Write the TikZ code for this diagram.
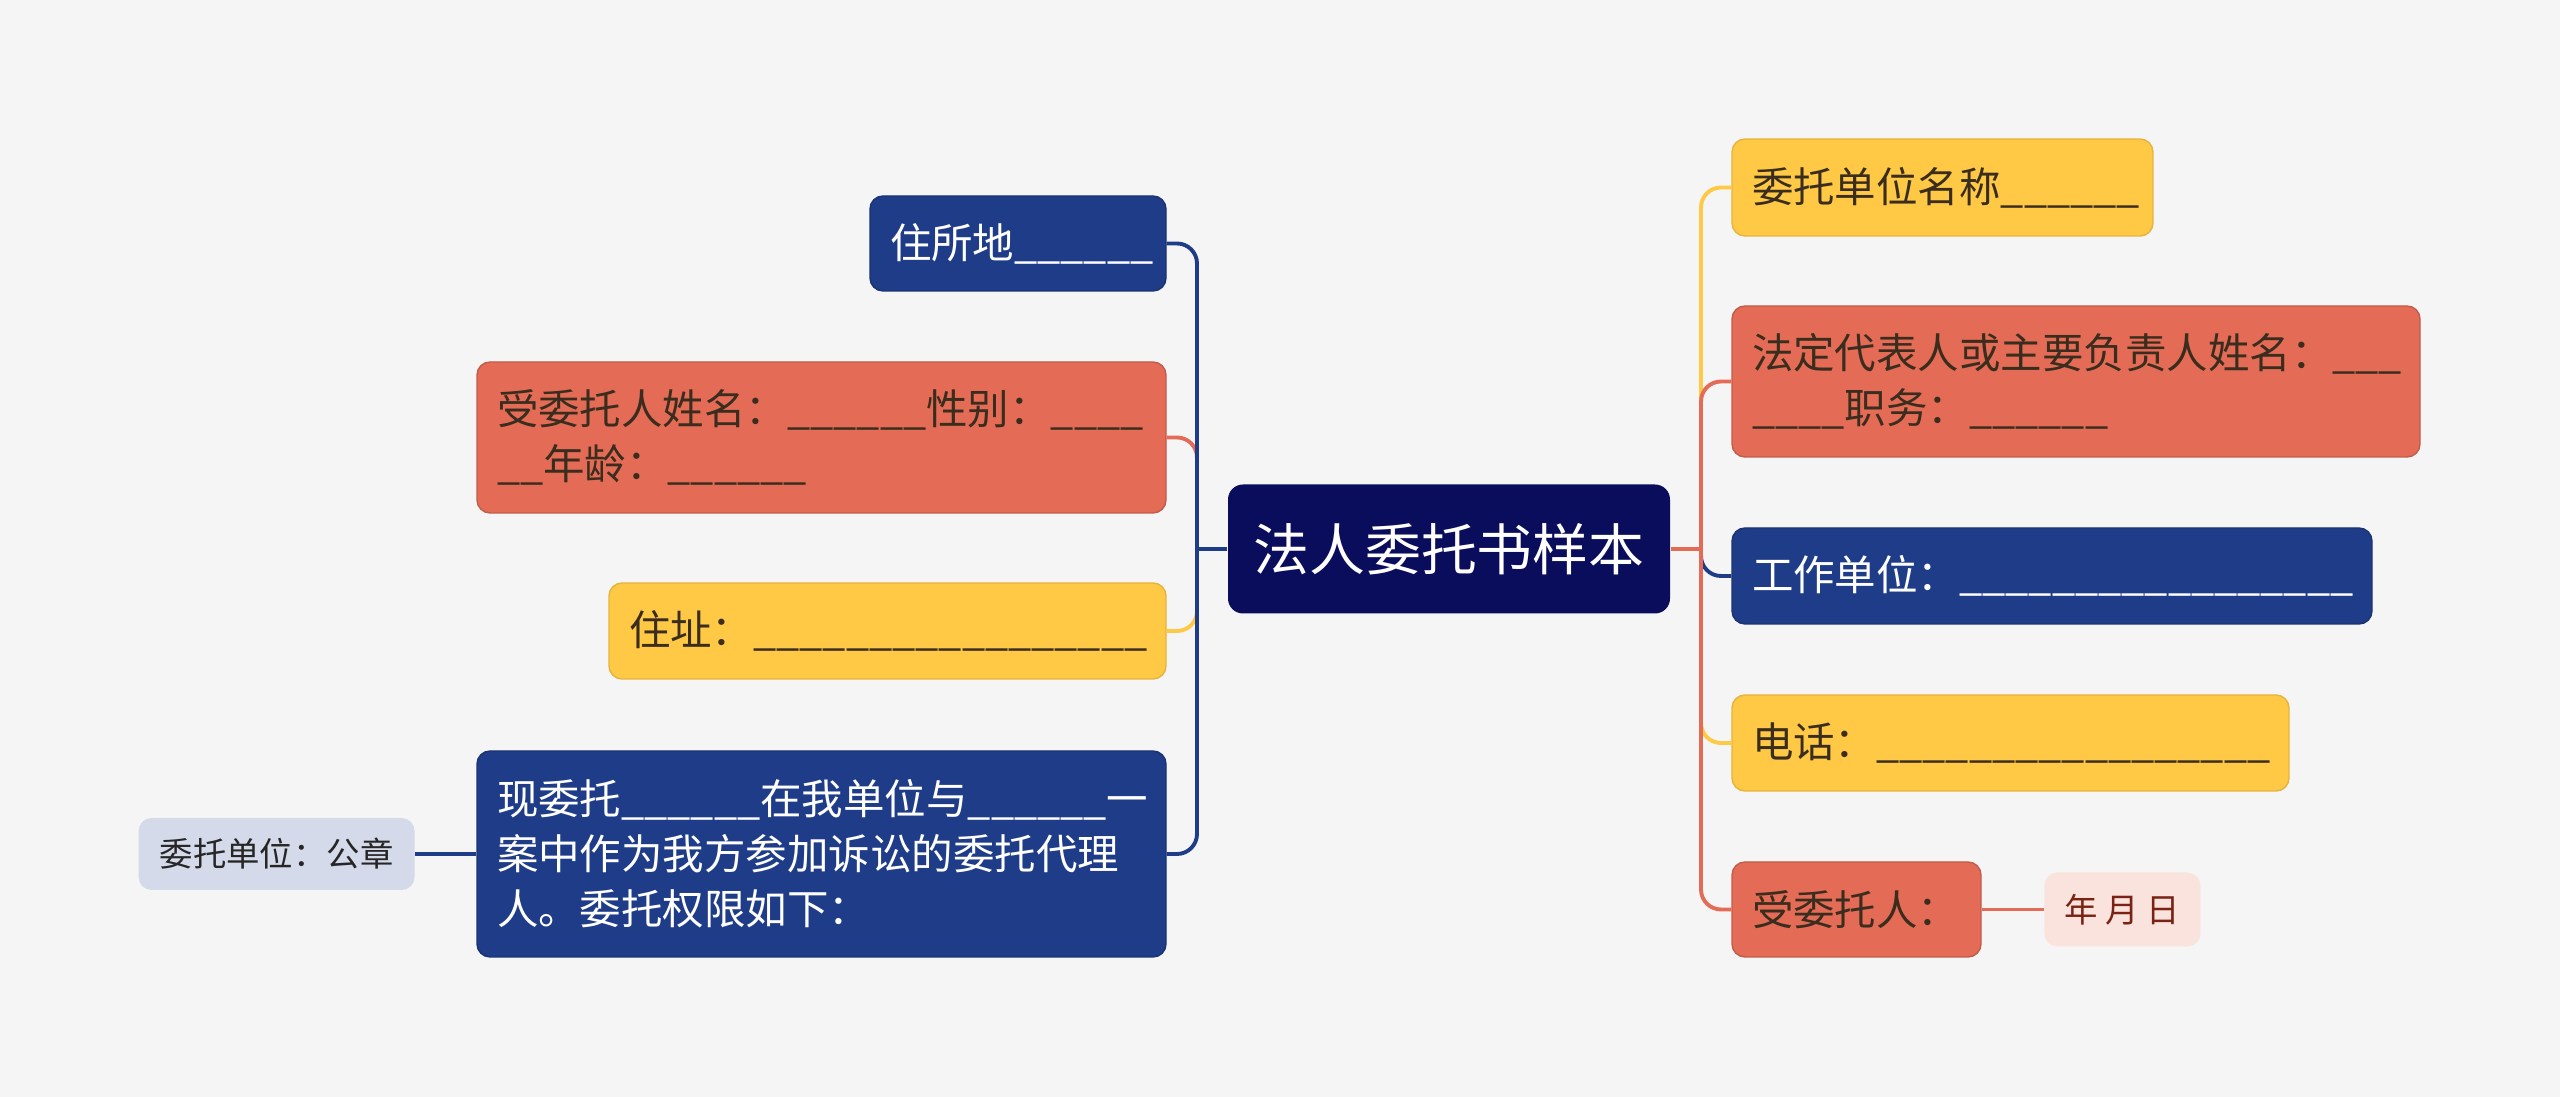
\documentclass[tikz,border=0pt]{standalone}
\usepackage{fontspec}
\setmainfont{Noto Sans CJK SC}
\usepackage{xcolor}
\usepackage{tikz}
\usetikzlibrary{positioning}
\definecolor{mmBack}{HTML}{F5F5F5}
\definecolor{mmRoot}{HTML}{0A0D5C}
\definecolor{mmBlue}{HTML}{1F3C88}
\definecolor{mmCoral}{HTML}{E46C57}
\definecolor{mmYellow}{HTML}{FFC845}
\definecolor{mmInk}{HTML}{3A2D1E}
\definecolor{mmPink}{HTML}{FAE3DD}
\definecolor{mmPinkInk}{HTML}{7A2214}
\definecolor{mmLilac}{HTML}{D5DAEA}

\begin{document}
\begin{tikzpicture}[
  x=0.1mm,y=-0.1mm,
  topic/.style={rounded corners=1.3mm,inner xsep=2mm,inner ysep=1mm,align=left,
    line width=0.4pt,font=\fontsize{11.8pt}{15.6pt}\selectfont},
  bluetopic/.style={topic,fill=mmBlue,draw=mmBlue!85!black,text=white},
  coraltopic/.style={topic,fill=mmCoral,draw=mmCoral!85!black,text=mmInk},
  yellowtopic/.style={topic,fill=mmYellow,draw=mmYellow!90!black,text=mmInk},
  roottopic/.style={rounded corners=1.5mm,fill=mmRoot,text=white,align=center,
    minimum width=44.2mm,minimum height=12.9mm,font=\fontsize{15.9pt}{19pt}\selectfont},
  leaf/.style={rounded corners=1.3mm,align=center,font=\fontsize{9.5pt}{12pt}\selectfont},
  link/.style={line width=1.1pt,rounded corners=2mm}
]
\fill[mmBack] (0,0) rectangle (2560,1097);
\useasboundingbox (0,0) rectangle (2560,1097);

\node[roottopic] (root) at (1449,549) {法人委托书样本};

% left side
\node[bluetopic,text width=25.6mm,minimum height=9.5mm] (domicile) at (1018,243.5) {住所地\_\_\_\_\_\_};
\node[coraltopic,text width=64.9mm,minimum height=15.1mm] (agent) at (821.5,437.5)
  {受委托人姓名：\_\_\_\_\_\_性别：\_\_\_\_\\\_\_年龄：\_\_\_\_\_\_};
\node[yellowtopic,text width=51.7mm,minimum height=9.6mm] (address) at (887.5,631)
  {住址：\_\_\_\_\_\_\_\_\_\_\_\_\_\_\_\_\_};
\node[bluetopic,text width=64.9mm,minimum height=20.6mm] (mandate) at (821.5,854)
  {现委托\_\_\_\_\_\_在我单位与\_\_\_\_\_\_一\\案中作为我方参加诉讼的委托代理\\人。委托权限如下：};
\node[leaf,fill=mmLilac,text=black!85,minimum width=27.6mm,minimum height=7.2mm,
  left=6.1mm of mandate] (seal) {委托单位：公章};

% right side
\node[yellowtopic,text width=38.1mm,minimum height=9.7mm] (company) at (1942.5,187.5) {委托单位名称\_\_\_\_\_\_};
\node[coraltopic,text width=64.8mm,minimum height=15.1mm] (legalrep) at (2076,381.5)
  {法定代表人或主要负责人姓名：\_\_\_\\\_\_\_\_职务：\_\_\_\_\_\_};
\node[bluetopic,text width=60mm,minimum height=9.6mm] (workunit) at (2052,576)
  {工作单位：\_\_\_\_\_\_\_\_\_\_\_\_\_\_\_\_\_};
\node[yellowtopic,text width=51.7mm,minimum height=9.6mm] (phone) at (2010.5,743)
  {电话：\_\_\_\_\_\_\_\_\_\_\_\_\_\_\_\_\_};
\node[coraltopic,text width=20.9mm,minimum height=9.5mm] (trustee) at (1856.5,909.5) {受委托人：};
\node[leaf,fill=mmPink,text=mmPinkInk,minimum width=15.6mm,minimum height=7.4mm,
  right=6.2mm of trustee] (date) {年 月 日};

% connectors
\coordinate (lhub) at (1197,549);
\coordinate (rhub) at (1701,549);
\draw[link,draw=mmBlue] (root.west) -- (lhub);
\draw[link,draw=mmCoral] (root.east) -- (rhub);

\draw[link,draw=mmCoral] (lhub) |- (agent.east);
\draw[link,draw=mmYellow] (lhub) |- (address.east);
\draw[link,draw=mmBlue] (lhub) |- (domicile.east);
\draw[link,draw=mmBlue] (lhub) |- (mandate.east);
\draw[link,draw=mmBlue] (seal) -- (mandate);

\draw[link,draw=mmYellow] (rhub) |- (company.west);
\draw[link,draw=mmBlue] (rhub) |- (workunit.west);
\draw[link,draw=mmYellow] (rhub) |- (phone.west);
\draw[link,draw=mmCoral] (rhub) |- (legalrep.west);
\draw[link,draw=mmCoral] (rhub) |- (trustee.west);
\draw[link,draw=mmCoral] (trustee) -- (date);
\end{tikzpicture}
\end{document}
